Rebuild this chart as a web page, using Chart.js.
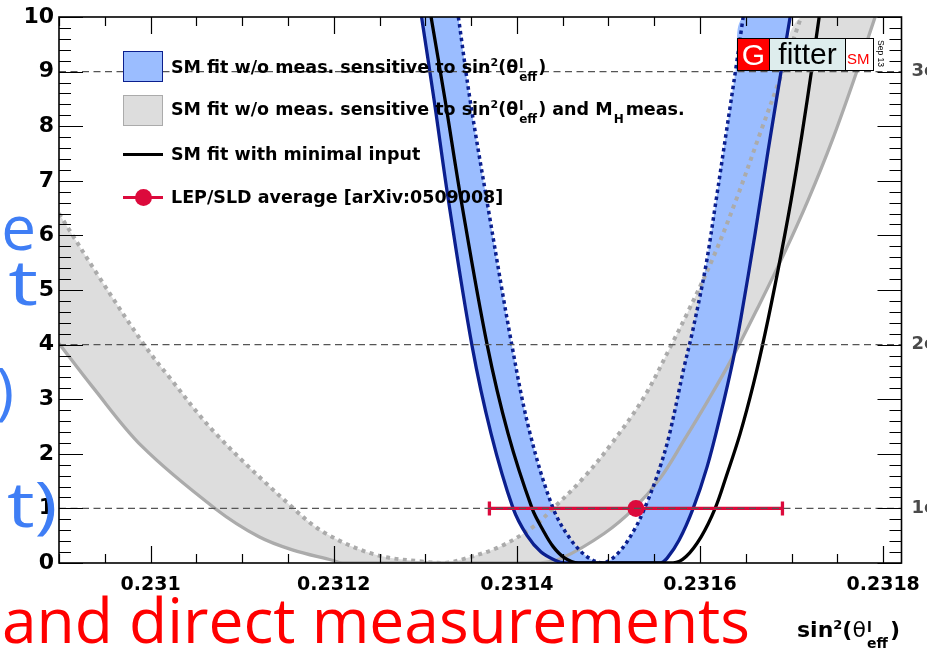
<!DOCTYPE html>
<html><head><meta charset="utf-8">
<script src="https://cdn.jsdelivr.net/npm/chart.js@4.4.1/dist/chart.umd.min.js"></script>
<style>
html,body{margin:0;padding:0;background:#fff;}
#wrap{position:relative;width:927px;height:653px;overflow:hidden;background:#fff;}
#c{position:absolute;left:0;top:0;z-index:1;}
.ov{position:absolute;white-space:nowrap;z-index:2;}
.leg{font-family:'DejaVu Sans';font-weight:bold;font-size:17.5px;line-height:17.5px;color:#000;}
.sup{position:relative;font-size:11px;top:-7px;}
.st{display:inline-block;position:relative;height:0;vertical-align:baseline;}
.st .u{position:absolute;left:1px;bottom:3px;font-size:12px;line-height:12px;}
.st .d{position:absolute;left:1px;bottom:-10px;font-size:12px;line-height:12px;}
.slide{position:absolute;white-space:nowrap;font-family:'Open Sans';font-size:62px;line-height:62px;z-index:3;}
</style></head>
<body>
<div id="wrap">
  <div class="slide" style="right:891px;top:195px;color:#3f7ef5">e</div>
  <div class="slide" style="right:889px;top:250px;color:#3f7ef5;transform:scaleX(1.35);transform-origin:100% 0">t</div>
  <div class="slide" style="right:913px;top:358px;color:#3f7ef5">)</div>
  <div class="slide" style="right:870px;top:472px;color:#3f7ef5;transform:scaleX(1.25);transform-origin:100% 0">t)</div>
  <div class="slide" id="redtxt" style="left:2px;top:588px;color:#ff0000;transform-origin:0 0">and direct measurements</div>
  <canvas id="c" width="927" height="653"></canvas>

  <!-- legend -->
  <div class="ov" style="left:123px;top:51px;width:40px;height:31px;box-sizing:border-box;background:#9bbdff;border:1.5px solid #0b1f8e"></div>
  <div class="ov" style="left:123px;top:95px;width:40px;height:31px;box-sizing:border-box;background:#dddddd;border:1.5px solid #ababab"></div>
  <div class="ov" style="left:123px;top:152.5px;width:40px;height:3.4px;background:#000"></div>
  <div class="ov" style="left:123px;top:195.6px;width:40px;height:3.4px;background:#dc0a3c"></div>
  <div class="ov" style="left:134.5px;top:188.5px;width:17px;height:17px;border-radius:50%;background:#dc0a3c"></div>
  <div class="ov leg" style="left:171px;top:59px">SM fit w/o meas. sensitive to sin<span class="sup">2</span>(θ<span class="st" style="width:20px"><span class="u">l</span><span class="d">eff</span></span>)</div>
  <div class="ov leg" style="left:171px;top:101px">SM fit w/o meas. sensitive to sin<span class="sup">2</span>(θ<span class="st" style="width:20px"><span class="u">l</span><span class="d">eff</span></span>) and M<span class="st" style="width:13px"><span class="d">H</span></span>meas.</div>
  <div class="ov leg" style="left:171px;top:146px">SM fit with minimal input</div>
  <div class="ov leg" style="left:171px;top:189px">LEP/SLD average [arXiv:0509008]</div>

  <!-- Gfitter logo -->
  <div class="ov" style="left:737px;top:38px;width:137px;height:33px;box-sizing:border-box;border:1px solid #000;background:#fff"></div>
  <div class="ov" style="left:737px;top:38px;width:33px;height:33px;box-sizing:border-box;border:1px solid #000;background:#ff0000;color:#fff;font-family:'Liberation Sans';font-size:30px;line-height:31px;text-align:center">G</div>
  <div class="ov" style="left:769px;top:38px;width:77px;height:33px;box-sizing:border-box;border:1px solid #000;background:#deeded;color:#000;font-family:'Liberation Sans';font-size:30px;line-height:29px;text-align:center">fitter</div>
  <div class="ov" style="left:847px;top:50px;color:#ff0000;font-family:'Liberation Sans';font-size:15px;line-height:18px">SM</div>
  <div class="ov" style="left:876px;top:40px;font-family:'Liberation Sans';font-size:8.5px;line-height:9px;transform-origin:0 0;transform:translate(9px,0) rotate(90deg)">Sep 13</div>

  <!-- x-axis title -->
  <div class="ov" style="left:797px;top:619px;font-family:'DejaVu Sans';font-weight:bold;font-size:22px;line-height:22px">sin<span class="sup" style="font-size:13px;top:-8px">2</span>(<span style="font-weight:normal">θ</span><span class="st" style="width:24px"><span class="u" style="font-size:14px;bottom:4px">l</span><span class="d" style="font-size:14px;bottom:-12px">eff</span></span>)</div>
</div>
<script>
// ---------- data ----------
const xTickValues = [0.231, 0.2312, 0.2314, 0.2316, 0.2318];
const xTickLabels = ['0.231', '0.2312', '0.2314', '0.2316', '0.2318'];
const yTickValues = [0, 1, 2, 3, 4, 5, 6, 7, 8, 9, 10];
const sigmaLevels = [1, 4, 9];
const sigmaLabels = ['1σ', '2σ', '3σ'];

// SM fit w/o meas. sensitive to sin2 and MH meas. (grey band: solid edge / dotted edge)
const grayWideX = [0.2309000, 0.2309364, 0.2309910, 0.2310711, 0.2311184, 0.2311548, 0.2311985, 0.2312091, 0.2314254, 0.2314494, 0.2314953, 0.2315280, 0.2315564, 0.2315826, 0.2316088, 0.2316340, 0.2316635, 0.2316919, 0.2317181, 0.2317443, 0.2317705, 0.2317912];
const grayWideY = [4.02, 3.23, 2.13, 0.99, 0.48, 0.24, 0.05, 0.00, 0.00, 0.09, 0.54, 1.00, 1.55, 2.25, 2.98, 3.72, 4.69, 5.67, 6.65, 7.74, 8.97, 10.0];
const grayNarrowX = [0.2309000, 0.2309437, 0.2309928, 0.2310201, 0.2310711, 0.2311567, 0.2311913, 0.2312459, 0.2313005, 0.2313216, 0.2313453, 0.2313817, 0.2314177, 0.2314396, 0.2314723, 0.2315040, 0.2315389, 0.2315695, 0.2315859, 0.2316132, 0.2316394, 0.2316656, 0.2316853, 0.2317104];
const grayNarrowY = [6.40, 5.24, 4.00, 3.41, 2.37, 0.99, 0.54, 0.15, 0.02, 0.00, 0.09, 0.30, 0.66, 1.00, 1.55, 2.20, 3.04, 4.02, 4.57, 5.55, 6.65, 7.87, 8.78, 10.0];

// SM fit w/o meas. sensitive to sin2 (blue band: solid edge / dotted edge)
const blueWideX = [0.2312959, 0.2313096, 0.2313252, 0.2313508, 0.2313718, 0.2313959, 0.2314112, 0.2314264, 0.2314417, 0.2314527, 0.2315564, 0.2315641, 0.2315772, 0.2315925, 0.2316077, 0.2316219, 0.2316361, 0.2316449, 0.2316602, 0.2316744, 0.2316875, 0.2316984];
const blueWideY = [10.0, 8.48, 6.65, 4.00, 2.37, 1.00, 0.50, 0.20, 0.05, 0.00, 0.00, 0.09, 0.42, 1.00, 1.76, 2.68, 3.72, 4.51, 6.04, 7.56, 8.90, 10.0];
const blueNarrowX = [0.2313361, 0.2313489, 0.2313671, 0.2313944, 0.2314144, 0.2314396, 0.2314592, 0.2314778, 0.2314942, 0.2315105, 0.2315280, 0.2315417, 0.2315564, 0.2315668, 0.2315826, 0.2315914, 0.2316061, 0.2316176, 0.2316285, 0.2316394, 0.2316471];
const blueNarrowY = [10.0, 8.48, 6.65, 4.00, 2.37, 1.00, 0.42, 0.10, 0.00, 0.18, 0.60, 1.09, 1.76, 2.37, 3.59, 4.21, 5.42, 6.65, 7.87, 9.09, 10.0];

// SM fit with minimal input (black)
const minimalX = [0.2313063, 0.2313216, 0.2313391, 0.2313675, 0.2313904, 0.2314166, 0.2314286, 0.2314396, 0.2314516, 0.2314669, 0.2315706, 0.2315848, 0.2316012, 0.2316165, 0.2316285, 0.2316438, 0.2316585, 0.2316711, 0.2316858, 0.2316995, 0.2317115, 0.2317224, 0.2317301];
const minimalY = [10.0, 8.48, 6.65, 4.00, 2.37, 1.00, 0.60, 0.30, 0.10, 0.00, 0.00, 0.12, 0.48, 1.00, 1.58, 2.37, 3.29, 4.21, 5.42, 6.65, 7.87, 9.09, 10.0];

// LEP/SLD average
const lepValue = [0.23153];
const lepError = [0.00016];
const lepDeltaChi2 = [1];

// ---------- build ----------
const X_MIN = 0.2309, X_MAX = 0.23182;
const pts = (xs, ys) => xs.map((x, i) => ({x: x, y: ys[i]}));
function band(wx, wy, nx, ny) {
  const w = pts(wx, wy), n = pts(nx, ny);
  return [...w, w[w.length - 1], ...n.slice().reverse()];
}
const DARKBLUE = '#0b1f8e', LBLUE = '#9bbdff', GLINE = '#ababab', GFILL = '#dddddd', RED = '#dc0a3c';
const lineBase = {showLine: true, pointRadius: 0, pointHoverRadius: 0, tension: 0.35, fill: false};
const datasets = [
  Object.assign({}, lineBase, {label: 'grayBand', data: band(grayWideX, grayWideY, grayNarrowX, grayNarrowY), borderColor: 'rgba(0,0,0,0)', borderWidth: 0, backgroundColor: GFILL, fill: 'shape', order: 9}),
  Object.assign({}, lineBase, {label: 'blueBand', data: band(blueWideX, blueWideY, blueNarrowX, blueNarrowY), borderColor: 'rgba(0,0,0,0)', borderWidth: 0, backgroundColor: LBLUE, fill: 'shape', order: 8}),
  Object.assign({}, lineBase, {label: 'grayWide', data: pts(grayWideX, grayWideY), borderColor: GLINE, borderWidth: 3.3, order: 7}),
  Object.assign({}, lineBase, {label: 'grayNarrow', data: pts(grayNarrowX, grayNarrowY), borderColor: GLINE, borderWidth: 4, borderDash: [4, 4.5], order: 6}),
  Object.assign({}, lineBase, {label: 'blueWide', data: pts(blueWideX, blueWideY), borderColor: DARKBLUE, borderWidth: 3.3, order: 5}),
  Object.assign({}, lineBase, {label: 'blueNarrow', data: pts(blueNarrowX, blueNarrowY), borderColor: DARKBLUE, borderWidth: 3.5, borderDash: [3.5, 3.5], order: 4}),
  Object.assign({}, lineBase, {label: 'minimal', data: pts(minimalX, minimalY), borderColor: '#000', borderWidth: 3.3, order: 3}),
  {label: 'lepBar', showLine: true, tension: 0, data: [{x: lepValue[0] - lepError[0], y: lepDeltaChi2[0]}, {x: lepValue[0] + lepError[0], y: lepDeltaChi2[0]}],
    borderColor: RED, borderWidth: 3.3, pointStyle: 'line', rotation: 90, pointRadius: 7, pointBorderWidth: 3.3, pointBorderColor: RED, pointBackgroundColor: RED, order: 2},
  {label: 'lepPoint', showLine: false, data: [{x: lepValue[0], y: lepDeltaChi2[0]}], pointStyle: 'circle', pointRadius: 8.5, pointBorderWidth: 0, pointBackgroundColor: RED, order: 1}
];
sigmaLevels.forEach((s, i) => datasets.push(Object.assign({}, lineBase, {label: 'sigma' + i, tension: 0,
  data: [{x: X_MIN, y: s}, {x: X_MAX, y: s}], borderColor: '#555555', borderWidth: 1.3, borderDash: [7, 4.5], order: 0})));

const frameTicks = {
  id: 'frameTicks',
  afterDatasetsDraw(chart) {
    const {ctx, chartArea: a, scales: {x, y}} = chart;
    ctx.save();
    ctx.strokeStyle = '#000';
    ctx.lineWidth = 1.2;
    ctx.beginPath();
    for (let n = 23090; n <= 23182; n += 5) {
      const px = Math.round(x.getPixelForValue(n / 100000)) + 0.5;
      const L = (n % 20 === 0) ? 17 : 9;
      ctx.moveTo(px, a.bottom); ctx.lineTo(px, a.bottom - L);
      ctx.moveTo(px, a.top); ctx.lineTo(px, a.top + L);
    }
    for (let k = 0; k <= 50; k++) {
      const py = Math.round(y.getPixelForValue(k / 5)) + 0.5;
      const L = (k % 5 === 0) ? 24 : 12;
      ctx.moveTo(a.left, py); ctx.lineTo(a.left + L, py);
      ctx.moveTo(a.right, py); ctx.lineTo(a.right - L, py);
    }
    ctx.stroke();
    ctx.lineWidth = 1.6;
    ctx.strokeRect(a.left, a.top, a.right - a.left, a.bottom - a.top);
    ctx.restore();
  }
};

const noPad = s => { s.paddingTop = 0; s.paddingBottom = 0; s.paddingLeft = 0; s.paddingRight = 0; };
new Chart(document.getElementById('c'), {
  type: 'scatter',
  data: {datasets: datasets},
  plugins: [frameTicks],
  options: {
    responsive: false, animation: false, devicePixelRatio: 1,
    layout: {padding: {top: 17, left: 0, right: 0, bottom: 0}},
    plugins: {legend: {display: false}, tooltip: {enabled: false}},
    elements: {line: {capBezierPoints: true}},
    scales: {
      x: {type: 'linear', position: 'bottom', min: X_MIN, max: X_MAX,
        grid: {display: false, drawTicks: false}, border: {display: false},
        afterBuildTicks: s => { s.ticks = xTickValues.map(v => ({value: v})); },
        afterFit: s => { s.height = 90; noPad(s); },
        ticks: {autoSkip: false, maxRotation: 0, padding: 11, color: '#000', font: {family: 'DejaVu Sans', weight: 'bold', size: 19},
          callback: (v, i) => xTickLabels[i]}},
      y: {type: 'linear', position: 'left', min: 0, max: 10,
        grid: {display: false, drawTicks: false}, border: {display: false},
        afterBuildTicks: s => { s.ticks = yTickValues.map(v => ({value: v})); },
        afterFit: s => { s.width = 59; noPad(s); },
        ticks: {autoSkip: false, padding: 5, color: '#000', font: {family: 'DejaVu Sans', weight: 'bold', size: 22}}},
      y2: {type: 'linear', position: 'right', min: 0, max: 10,
        grid: {display: false, drawTicks: false}, border: {display: false},
        afterBuildTicks: s => { s.ticks = sigmaLevels.map(v => ({value: v})); },
        afterFit: s => { s.width = 25.5; noPad(s); },
        ticks: {autoSkip: false, padding: 10, color: '#4a4a4a', font: {family: 'DejaVu Sans', weight: 'bold', size: 18},
          callback: (v, i) => sigmaLabels[i]}}
    }
  }
});

// fit the slide's red line to its width in the picture
const rt = document.getElementById('redtxt');
const w = rt.getBoundingClientRect().width;
rt.style.transform = 'scaleX(' + (748 / w) + ')';
</script>
</body></html>
